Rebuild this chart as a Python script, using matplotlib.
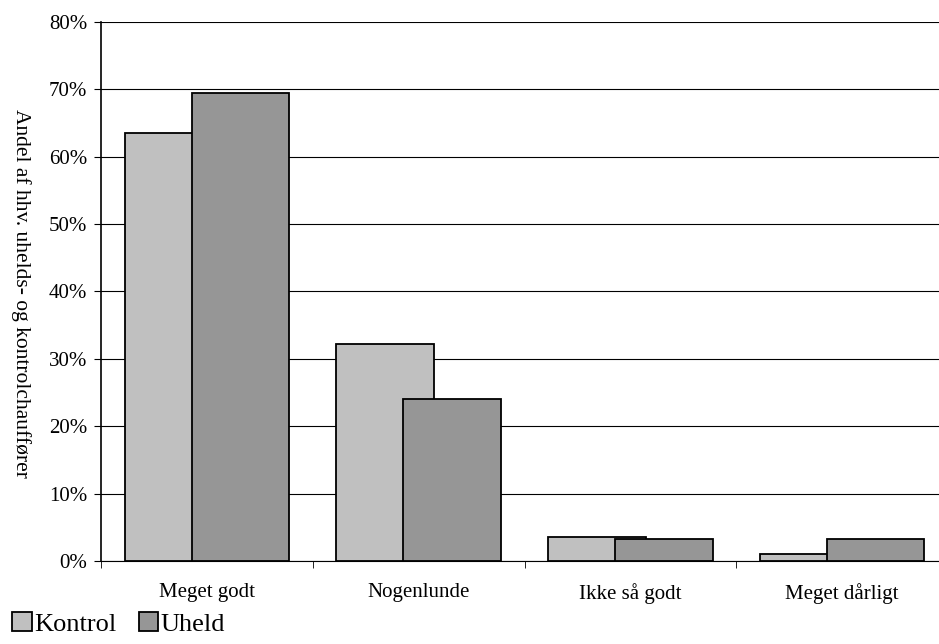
import matplotlib
matplotlib.use("Agg")
import matplotlib.pyplot as plt
import numpy as np
from matplotlib.patches import Patch
from matplotlib.ticker import FixedLocator

categories = ["Meget godt", "Nogenlunde", "Ikke så godt", "Meget dårligt"]
kontrol = [63.5, 32.2, 3.5, 1.1]
uheld = [69.5, 24.0, 3.3, 3.3]
series_names = ["Kontrol", "Uheld"]
yticks = [0, 10, 20, 30, 40, 50, 60, 70, 80]

plt.rcParams['font.family'] = ['Liberation Serif', 'DejaVu Serif']

fig = plt.figure(figsize=(9.39, 6.44), dpi=100)
ax = fig.add_axes([101/939, 1-561/644, 847/939, (561-22)/644])

x = np.arange(len(categories))
w = 0.461
off = 0.158
ax.bar(x - off, kontrol, width=w, color='#C0C0C0', edgecolor='black', linewidth=1.3, zorder=3)
ax.bar(x + off, uheld, width=w, color='#969696', edgecolor='black', linewidth=1.3, zorder=4)

ax.set_xlim(-0.5, len(categories) - 0.5)
ax.set_ylim(0, 80)
ax.set_yticks(yticks)
ax.set_yticklabels([f"{v}%" for v in yticks], fontsize=15)
ax.yaxis.grid(True, color='black', linewidth=0.8, zorder=0)
ax.set_axisbelow(True)

ax.set_xticks(x)
ax.set_xticklabels(categories, fontsize=15)
ax.tick_params(axis='x', length=0, pad=16)
ax.xaxis.set_minor_locator(FixedLocator(np.arange(-0.5, len(categories), 1.0)))
ax.tick_params(axis='x', which='minor', length=5, direction='out', color='black')
ax.tick_params(axis='y', length=5, direction='out', color='black', pad=5)

for s in ['top', 'right']:
    ax.spines[s].set_visible(False)
ax.spines['left'].set_linewidth(1.2)
ax.spines['bottom'].set_linewidth(0.8)

fig.text(21/939, 1 - 293/644, "Andel af hhv. uhelds- og kontrolchauffører", rotation=-90,
         ha='center', va='center', fontsize=15.5)

handles = [Patch(facecolor='#C0C0C0', edgecolor='black', linewidth=1.3),
           Patch(facecolor='#969696', edgecolor='black', linewidth=1.3)]
fig.legend(handles, series_names, loc='lower left', bbox_to_anchor=(-0.004, -0.012), ncol=2,
           frameon=False, fontsize=19, handlelength=0.75, handleheight=0.75,
           handletextpad=0.08, columnspacing=0.85, borderaxespad=0.2)

fig.savefig("out.png", dpi=100)
